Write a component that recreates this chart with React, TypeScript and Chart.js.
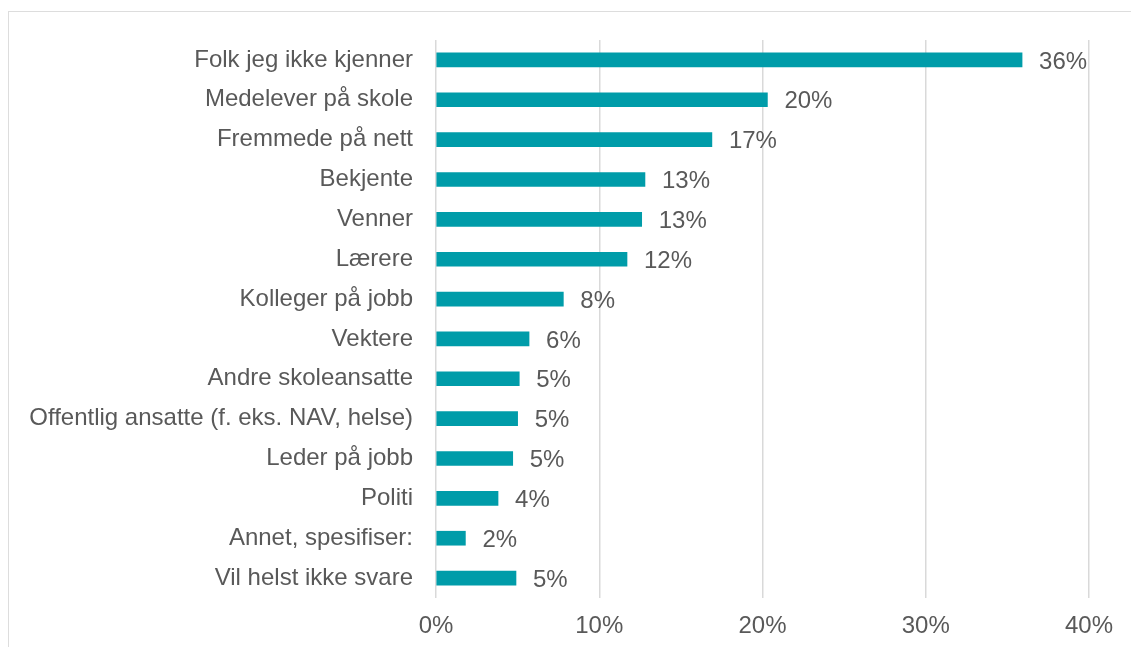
import React, { useEffect, useRef } from "react";
import { Chart, registerables } from "chart.js";

Chart.register(...registerables);

const categories = [
  "Folk jeg ikke kjenner",
  "Medelever på skole",
  "Fremmede på nett",
  "Bekjente",
  "Venner",
  "Lærere",
  "Kolleger på jobb",
  "Vektere",
  "Andre skoleansatte",
  "Offentlig ansatte (f. eks. NAV, helse)",
  "Leder på jobb",
  "Politi",
  "Annet, spesifiser:",
  "Vil helst ikke svare",
];

const values = [35.9, 20.3, 16.9, 12.8, 12.6, 11.7, 7.8, 5.7, 5.1, 5.0, 4.7, 3.8, 1.8, 4.9];
const valueLabels = ["36%", "20%", "17%", "13%", "13%", "12%", "8%", "6%", "5%", "5%", "5%", "4%", "2%", "5%"];
const xTicks = [0, 10, 20, 30, 40];

const FONT = "'Liberation Sans', Arial, sans-serif";
const TEXT = "#595959";

const labelPlugin = {
  id: "valueLabels",
  afterDatasetsDraw(chart: any) {
    const ctx = chart.ctx;
    const meta = chart.getDatasetMeta(0);
    ctx.save();
    ctx.font = `24px ${FONT}`;
    ctx.fillStyle = TEXT;
    ctx.textAlign = "left";
    ctx.textBaseline = "middle";
    meta.data.forEach((bar: any, i: number) => {
      ctx.fillText(valueLabels[i], bar.x + 17, bar.y + 2);
    });
    ctx.restore();
  },
};

export default function App() {
  const ref = useRef<HTMLCanvasElement | null>(null);

  useEffect(() => {
    if (!ref.current) return;
    const chart = new Chart(ref.current, {
      type: "bar",
      data: {
        labels: categories,
        datasets: [
          {
            data: values,
            backgroundColor: "#009CA9",
            borderWidth: 0,
            barThickness: 14,
          },
        ],
      },
      options: {
        indexAxis: "y",
        animation: false,
        responsive: false,
        maintainAspectRatio: false,
        layout: { padding: { top: 27, right: 42, bottom: 0, left: 0 } },
        plugins: { legend: { display: false }, tooltip: { enabled: false } },
        scales: {
          x: {
            min: 0,
            max: 40,
            afterFit: (s: any) => {
              s.height = 49;
              s.paddingTop = 0;
              s.paddingBottom = 0;
            },
            afterBuildTicks: (s: any) => {
              s.ticks = xTicks.map((v) => ({ value: v }));
            },
            border: { display: false },
            grid: { color: "#D9D9D9", lineWidth: 1.5, drawTicks: false },
            ticks: {
              padding: 14,
              color: TEXT,
              font: { family: FONT, size: 24 },
              callback: (v: any) => `${v}%`,
            },
          },
          y: {
            afterFit: (s: any) => {
              s.width = 427;
              s.paddingTop = 0;
              s.paddingBottom = 0;
            },
            border: { display: false },
            grid: { display: false, drawTicks: false },
            ticks: {
              padding: 23,
              color: TEXT,
              font: { family: FONT, size: 24 },
            },
          },
        },
      },
      plugins: [labelPlugin],
    });
    return () => chart.destroy();
  }, []);

  return (
    <div
      style={{
        position: "fixed",
        left: 0,
        top: 0,
        width: "100vw",
        height: "100vh",
        overflow: "hidden",
        background: "#fff",
      }}
    >
      <div
        style={{
          position: "absolute",
          left: 8,
          top: 11,
          width: 1140,
          height: 660,
          borderTop: "1.5px solid #DDDDDD",
          borderLeft: "1.5px solid #DDDDDD",
        }}
      />
      <canvas
        ref={ref}
        width={1122}
        height={634}
        style={{ position: "absolute", left: 9, top: 13, width: 1122, height: 634 }}
      />
    </div>
  );
}
